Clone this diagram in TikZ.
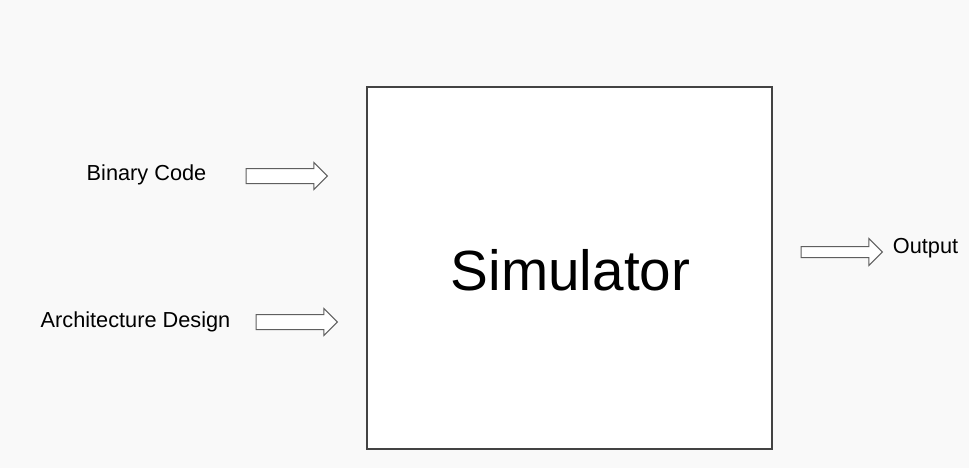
\documentclass[tikz,border=0pt]{standalone}
\usepackage{fontspec}
\setmainfont{Liberation Sans}
\usepackage{tikz}
\usetikzlibrary{positioning, shapes.arrows}
\definecolor{simPaper}{HTML}{F9F9F9}
\definecolor{simEdge}{HTML}{434343}
\definecolor{simArrow}{HTML}{5F5F5F}

\begin{document}
\begin{tikzpicture}[x=0.75pt, y=-0.75pt,
  block/.style={draw=simEdge, line width=1.5pt, fill=white,
    minimum width=303.75pt, minimum height=271.5pt, inner sep=0pt},
  lbl/.style={anchor=base, inner sep=0pt, font=\fontsize{16.3}{19}\selectfont},
  barrow/.style={single arrow, draw=simArrow, line width=0.75pt, fill=white,
    anchor=tail, inner xsep=0pt, inner ysep=5.25pt, minimum height=61pt,
    single arrow tip angle=90, single arrow head extend=4.5pt}]

\fill[simPaper] (0,0) rectangle (969,468);
\useasboundingbox (0,0) rectangle (969,468);

\node[block] (sim) at (569.5,268) {};
\node[lbl, font=\fontsize{42.5}{50}\selectfont] (simtxt) at (570.5,290) {Simulator};

\node[barrow] (binarr)  at (245.5,176) {};
\node[barrow] (archarr) at (255.5,322) {};
\node[barrow, inner ysep=3.75pt, single arrow head extend=6pt] (outarr) at (800.5,252) {};

\node[lbl] (bin)  at (146.5,180) {Binary Code};
\node[lbl] (arch) at (135.5,327) {Architecture Design};
\node[lbl] (out)  at (925.5,253) {Output};
\end{tikzpicture}
\end{document}
